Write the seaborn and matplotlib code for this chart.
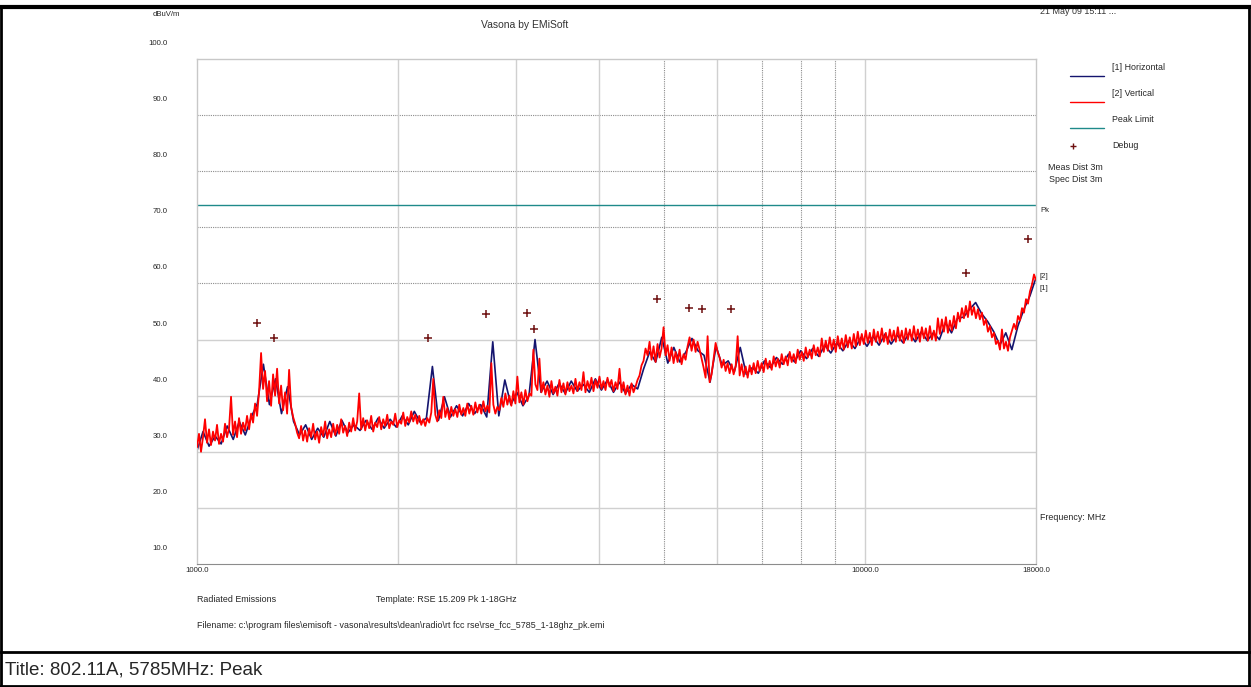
import numpy as np
import pandas as pd
import matplotlib
matplotlib.use("Agg")
import matplotlib.pyplot as plt
import matplotlib.transforms as mtransforms
from matplotlib.lines import Line2D
import seaborn as sns

# sweep range (MHz), points are log spaced across the scan
freq_start_mhz = 1000.0
freq_stop_mhz = 18000.0

# [2] Vertical trace, dBuV/m
vertical_dbuv = [
    30.8, 33.2, 30.0, 32.6, 35.8,
    31.6, 34.0, 31.2, 33.6, 32.0, 34.8, 31.4, 33.2, 31.8, 35.0, 32.6, 34.2,
    39.8, 33.0, 35.4, 32.6, 36.0, 33.2, 35.2, 33.8, 36.4, 34.0,
    36.8, 35.2, 38.6, 36.4,
    40.8, 47.6, 41.2,
    44.4, 39.0, 42.6, 38.2, 43.8, 40.0, 44.8, 38.6, 41.8, 37.4, 40.6, 36.8, 44.6,
    38.0, 36.2, 35.0, 33.4,
    32.4, 34.6, 32.0, 33.8, 31.8, 34.2, 32.6, 35.0, 32.2, 33.6, 31.6, 34.4, 32.8, 35.4, 32.4, 34.0, 32.6,
    35.0, 33.0, 34.8, 33.2, 35.8, 33.4, 34.6, 32.8, 35.2, 33.6, 36.0, 33.8, 35.4,
    40.4,
    34.0, 36.0, 33.8, 35.6, 34.2, 36.4, 33.6, 35.2, 34.4, 36.2, 34.0, 35.8,
    34.6, 36.6, 34.2, 35.4, 34.8, 36.8, 34.4, 35.6, 35.0, 37.0, 34.6, 36.2,
    35.2, 37.2, 35.4, 36.6, 35.0, 36.4, 34.8, 35.8, 34.6, 36.0, 35.2,
    37.0, 43.0,
    36.6, 35.4, 37.4, 36.0, 39.8, 36.2, 37.8, 35.8, 38.0, 36.4,
    37.6, 36.2, 38.4, 36.6, 37.8, 36.4, 38.6, 36.8, 38.2, 36.6,
    38.8, 37.0, 38.4, 36.8, 39.0, 37.2, 38.2, 37.0,
    45.8,
    38.4, 36.8, 38.0, 37.4,
    39.6, 38.0, 40.4, 38.4, 40.0, 38.2, 40.8, 38.6, 43.4, 38.8, 40.6, 38.4, 41.0, 39.0, 40.4,
    40.0, 48.2, 42.0, 41.0, 46.6, 40.6,
    42.4, 40.2, 41.8, 39.8, 42.6, 40.4, 41.6, 40.0, 42.8, 40.6,
    42.2, 40.2, 42.4, 40.8, 41.8, 40.4, 43.0, 40.8, 42.4, 41.0,
    44.2, 40.6, 42.6, 41.2, 43.2, 40.8, 42.8, 41.4, 43.4, 41.2,
    42.6, 41.0, 43.2, 41.6, 42.8, 40.8, 42.4,
    41.2, 44.8, 40.6, 42.4, 40.2, 41.8, 40.0, 42.2, 40.6, 41.6, 42.8,
    43.6, 45.4, 46.2, 48.4, 47.2,
    49.6, 46.4, 48.8, 46.0, 49.2, 46.8, 48.4, 52.2, 47.2, 49.0,
    46.2, 48.6, 45.8, 47.8, 46.0, 48.2, 45.6, 47.4, 46.4, 48.8,
    50.4, 48.0, 50.0, 47.8, 49.6, 48.2,
    46.6, 45.0, 43.2, 50.6, 42.4, 43.8,
    46.6, 49.4, 47.8,
    46.8, 45.0, 46.4, 44.4, 45.8, 44.0, 45.6, 43.8, 45.2, 50.6,
    43.6, 45.6, 43.4, 45.2, 43.2, 45.4, 43.8,
    45.8, 44.0, 46.2, 44.4, 45.8, 44.2, 46.6, 44.8, 46.2, 44.6,
    47.0, 45.2, 46.6, 45.0, 47.4, 45.6, 47.0, 45.4, 47.8, 46.0,
    47.4, 45.8, 48.2, 46.4, 47.8, 46.2, 48.6, 46.8, 48.2, 46.6,
    49.0, 47.2, 48.6, 47.0,
    50.2, 47.8, 49.8, 48.0, 50.4, 48.2, 50.0, 47.8, 50.6, 48.4,
    50.2, 48.2, 50.8, 48.6, 50.4, 48.4, 51.0, 48.8,
    51.4, 49.0, 51.0, 49.2, 51.6, 49.4, 51.2, 49.0, 51.8, 49.6,
    51.4, 49.4, 52.0, 49.6, 51.2, 49.2, 51.8, 49.8, 51.6, 49.6,
    52.2, 49.8, 51.6, 49.4, 52.0, 50.0, 51.8, 49.8, 52.4, 50.0,
    51.8, 49.6, 52.2, 50.2, 52.0, 49.8, 52.4, 50.0, 51.6, 49.8,
    53.8, 51.0, 53.6, 51.4, 54.0, 51.2, 53.4, 51.6, 54.2, 52.0,
    54.8, 53.2, 55.6, 53.8, 56.0, 54.0, 56.8, 54.4, 55.8, 53.8, 55.4, 53.6, 54.8,
    52.6, 53.6, 51.4, 52.4, 50.4, 51.2, 49.2, 49.8,
    48.2, 51.8, 48.4, 49.6, 48.0,
    50.4, 51.6, 52.8, 51.8, 54.2, 53.4, 55.6, 54.8, 57.2, 56.4, 58.6, 59.8, 61.6, 60.6,
]

# [1] Horizontal trace, dBuV/m
horizontal_dbuv = [
    30.2, 33.6, 31.0, 32.8, 31.4, 34.6, 32.2, 35.4, 33.0, 36.2,
    38.6, 45.6, 38.4, 43.0, 36.8, 41.6, 35.4, 33.0, 34.8, 32.2,
    34.2, 32.6, 35.4, 32.8, 35.6, 33.4, 34.8, 33.8, 35.6, 34.0,
    36.0, 34.2, 35.8, 34.4, 36.4, 34.8, 37.2, 35.2, 36.0, 45.2,
    35.6, 39.8, 36.2, 38.2, 36.4, 38.6, 36.8, 38.4, 36.2, 49.6,
    36.4, 42.8, 38.4, 40.6, 38.2, 40.0, 50.0, 40.6, 42.6, 40.2,
    42.2, 40.4, 42.6, 40.8, 42.0, 40.6, 43.0, 41.0, 42.8, 40.6,
    42.4, 40.4, 42.0, 41.2, 44.8, 47.8, 46.0, 50.4, 45.8, 48.6,
    46.0, 47.8, 50.2, 48.0, 47.2, 42.4, 48.8, 45.4, 46.2, 44.2,
    48.6, 43.8, 45.0, 44.0, 46.2, 45.0, 46.8, 45.6, 47.4, 46.0,
    48.0, 46.6, 48.4, 47.0, 49.0, 47.6, 49.4, 48.0, 49.8, 48.4,
    50.4, 48.8, 50.6, 49.0, 51.0, 49.2, 50.8, 49.4, 51.2, 49.6,
    51.4, 49.8, 51.2, 50.0, 53.0, 51.2, 53.8, 54.0, 55.4, 56.6,
    54.6, 53.2, 51.4, 49.0, 51.2, 48.2, 52.4, 55.4, 57.8, 61.0,
]

peak_limit_dbuv = 74.0

# Debug markers
debug_freq_mhz = [1230, 1304, 2216, 2706, 3112, 3196, 4884, 5452, 5702, 6300, 14130, 17520]
debug_dbuv = [52.9, 50.2, 50.2, 54.5, 54.8, 51.8, 57.3, 55.7, 55.5, 55.5, 61.8, 67.9]

y_ticks = [10, 20, 30, 40, 50, 60, 70, 80, 90, 100]
x_tick_freqs = [1000, 10000, 18000]
x_grid_solid = [2000, 3000, 4000, 6000, 10000]
x_grid_dotted = [5000, 7000, 8000, 9000]

sns.set_style("white")
plt.rcParams["font.family"] = ["Liberation Sans", "DejaVu Sans"]

W, H = 1251, 687
fig = plt.figure(figsize=(W / 100, H / 100), dpi=100)


def fx(px):
    return px / W


def fy(py):
    return 1 - py / H


ax = fig.add_axes([fx(197), fy(564), fx(1036) - fx(197), fy(59) - fy(564)])
ax.set_xscale("log")

# grid
for v in y_ticks[1:-1]:
    if v <= 50:
        ax.axhline(v, color="#d0d0d0", lw=1.0, zorder=0)
    else:
        ax.axhline(v, color="#8c8c8c", lw=0.8, ls=(0, (1, 1)), zorder=0)
for f in x_grid_solid:
    ax.axvline(f, color="#d0d0d0", lw=1.0, zorder=0)
for f in x_grid_dotted:
    ax.axvline(f, color="#8c8c8c", lw=0.8, ls=(0, (1, 1)), zorder=0)

vert_df = pd.DataFrame({
    "freq": np.geomspace(freq_start_mhz, freq_stop_mhz, len(vertical_dbuv)),
    "level": vertical_dbuv,
})
horiz_df = pd.DataFrame({
    "freq": np.geomspace(freq_start_mhz, freq_stop_mhz, len(horizontal_dbuv)),
    "level": horizontal_dbuv,
})
limit_df = pd.DataFrame({"freq": [freq_start_mhz, freq_stop_mhz],
                         "level": [peak_limit_dbuv, peak_limit_dbuv]})
debug_df = pd.DataFrame({"freq": debug_freq_mhz, "level": debug_dbuv})

sns.lineplot(data=horiz_df, x="freq", y="level", ax=ax, color="#14146e",
             lw=1.2, estimator=None, sort=False, zorder=2)
sns.lineplot(data=vert_df, x="freq", y="level", ax=ax, color="#ff0000",
             lw=1.3, estimator=None, sort=False, zorder=3)
sns.lineplot(data=limit_df, x="freq", y="level", ax=ax, color="#1f8a8a",
             lw=1.0, estimator=None, zorder=2)
sns.scatterplot(data=debug_df, x="freq", y="level", ax=ax, marker="+",
                s=26, color="#6e1010", linewidth=1.1, zorder=4)

ax.set_xlim(freq_start_mhz, freq_stop_mhz)
ax.set_ylim(10, 100)
ax.set_xlabel("")
ax.set_ylabel("")
ax.minorticks_off()

ax.set_xticks(x_tick_freqs)
ax.set_xticklabels([f"{v:.1f}" for v in x_tick_freqs], fontsize=5.6)
ax.set_yticks(y_ticks)
ax.set_yticklabels([f"{v:.1f}" for v in y_ticks], fontsize=5.6)
ax.tick_params(axis="x", length=0, pad=2.5)
ax.tick_params(axis="y", length=0, pad=21)
# y labels sit above their gridlines in the original
shift = mtransforms.ScaledTranslation(0, 16.5 / 100, fig.dpi_scale_trans)
for lab in ax.get_yticklabels():
    lab.set_transform(lab.get_transform() + shift)

for side in ["top", "left", "right"]:
    ax.spines[side].set_color("#c8c8c8")
    ax.spines[side].set_linewidth(1.0)
ax.spines["bottom"].set_color("#8c8c8c")
ax.spines["bottom"].set_linewidth(0.8)
ax.spines["bottom"].set_linestyle((0, (1, 1)))

# header texts
small = 6.4
fig.text(fx(166), fy(15), "dBuV/m", fontsize=5.6, ha="center", va="center")
fig.text(fx(525), fy(25), "Vasona by EMiSoft", fontsize=7.5, ha="center", va="center", color="#333333")
fig.text(fx(1040), fy(11), "21 May 09 15:11 ...", fontsize=small, ha="left", va="center", color="#333333")

# legend
legend_rows = [
    ("[1] Horizontal", "#14146e", 67),
    ("[2] Vertical", "#ff0000", 93),
    ("Peak Limit", "#1f8a8a", 119),
]
for label, col, ty in legend_rows:
    fig.text(fx(1112), fy(ty), label, fontsize=small, ha="left", va="center")
    fig.add_artist(Line2D([fx(1070), fx(1104)], [fy(ty + 9), fy(ty + 9)], color=col, lw=1.0))
fig.add_artist(Line2D([fx(1073)], [fy(146)], marker="+", color="#6e1010", ms=4, mew=1.0))
fig.text(fx(1112), fy(145), "Debug", fontsize=small, ha="left", va="center")
fig.text(fx(1048), fy(167), "Meas Dist 3m", fontsize=small, ha="left", va="center")
fig.text(fx(1049), fy(179), "Spec Dist 3m", fontsize=small, ha="left", va="center")

fig.text(fx(1040), fy(210), "Pk", fontsize=5.6, ha="left", va="center")
fig.text(fx(1039), fy(277), "[2]", fontsize=5.6, ha="left", va="center")
fig.text(fx(1039), fy(288), "[1]", fontsize=5.6, ha="left", va="center")
fig.text(fx(1040), fy(517), "Frequency: MHz", fontsize=small, ha="left", va="center")

# footer texts
fig.text(fx(197), fy(600), "Radiated Emissions", fontsize=small, ha="left", va="center")
fig.text(fx(376), fy(600), "Template: RSE 15.209 Pk 1-18GHz", fontsize=small, ha="left", va="center")
fig.text(fx(197), fy(625),
         r"Filename: c:\program files\emisoft - vasona\results\dean\radio\rt fcc rse\rse_fcc_5785_1-18ghz_pk.emi",
         fontsize=small, ha="left", va="center")

# page frame
fig.add_artist(Line2D([0, 1], [fy(7), fy(7)], color="black", lw=3.0, zorder=10))
fig.add_artist(Line2D([fx(1), fx(1)], [fy(7), 0], color="black", lw=2.0, zorder=10))
fig.add_artist(Line2D([fx(1249), fx(1249)], [fy(7), 0], color="black", lw=2.0, zorder=10))
fig.add_artist(Line2D([0, 1], [fy(652), fy(652)], color="black", lw=2.0, zorder=10))
fig.add_artist(Line2D([0, 1], [fy(686), fy(686)], color="black", lw=2.0, zorder=10))
fig.text(fx(5), fy(670), "Title: 802.11A, 5785MHz: Peak", fontsize=13.5, ha="left", va="center")

fig.savefig("out.png", dpi=100, facecolor="white")
